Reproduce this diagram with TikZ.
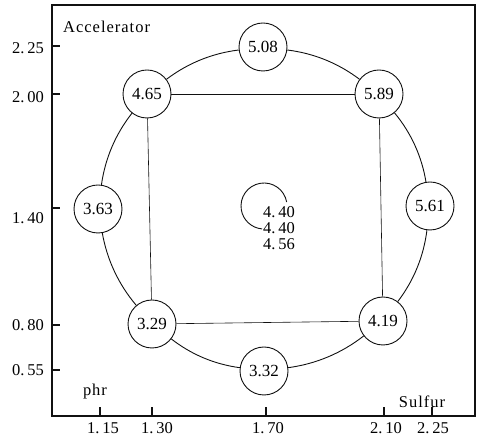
\documentclass[tikz,border=0pt]{standalone}
\usepackage{fontspec}
\setmainfont{Liberation Serif}
\usetikzlibrary{positioning}
\definecolor{mink}{HTML}{111111}
\tikzset{
  pt/.style={draw=mink, circle, fill=white, minimum size=48pt, inner sep=0pt,
             line width=0.9pt, font=\fontsize{17}{20}\selectfont},
  ring/.style={draw=mink, line width=0.9pt},
  arcto/.style={ring, bend left=15, looseness=0.88},
  grid/.style={draw=mink, line width=0.6pt},
  frame/.style={draw=mink, line width=1.1pt},
  tlab/.style={font=\fontsize{16.5}{19}\selectfont, inner sep=0pt},
}

\begin{document}
\begin{tikzpicture}[x=1pt, y=1pt]
    \useasboundingbox (0,0) rectangle (482,441);

    % axes box and ticks
    \draw[frame] (52,25) rectangle (475,436);
    \foreach \y/\ly/\t in {395/393/2.\,25, 347/344/2.\,00, 233/223/1.\,40, 116/116/0.\,80, 71/71/0.\,55}{
      \draw[frame] (52,\y) -- (60,\y);
      \node[tlab, anchor=east] at (44,\ly) {\t};
    }
    \foreach \x/\lx/\t in {100/103/1.\,15, 152/157/1.\,30, 266/268/1.\,70, 384/386/2.\,10, 432/433/2.\,25}{
      \draw[frame] (\x,25) -- (\x,34);
      \node[tlab] at (\lx,13) {\t};
    }
    \node[tlab, anchor=west] (yname) at (63,414) {\addfontfeature{LetterSpace=6}Accelerator};
    \node[tlab] (unit) at (95,49) {\addfontfeature{LetterSpace=6}phr};
    \node[tlab] (xname) at (422,39) {\addfontfeature{LetterSpace=6}Sulfur};

    % design points
    \node[pt] (c508) at (263,394) {5.08};
    \node[pt] (c465) at (147,347) {4.65};
    \node[pt] (c589) at (379,347) {5.89};
    \node[pt] (c363) at (98,232) {3.63};
    \node[pt] (c561) at (430,235) {5.61};
    \node[pt] (c329) at (152,117) {3.29};
    \node[pt] (c419) at (383,120) {4.19};
    \node[pt] (c332) at (264,70) {3.32};

    \coordinate (c440) at (264,235);
    \node[tlab, align=center, font=\fontsize{16.5}{16}\selectfont] (m440) at (279,213) {4.\,40\\4.\,40\\4.\,56};
    \draw[ring] ([shift={(10:23)}]c440) arc[start angle=10, end angle=265, radius=23];

    \draw[arcto] (c508) to (c589);
    \draw[arcto] (c589) to (c561);
    \draw[arcto] (c561) to (c419);
    \draw[arcto] (c419) to (c332);
    \draw[arcto] (c332) to (c329);
    \draw[arcto] (c329) to (c363);
    \draw[arcto] (c363) to (c465);
    \draw[arcto] (c465) to (c508);

    \draw[grid] (c465) -- (c589);
    \draw[grid] (c589) -- (c419);
    \draw[grid] (c419) -- (c329);
    \draw[grid] (c329) -- (c465);
  \end{tikzpicture}
\end{document}
